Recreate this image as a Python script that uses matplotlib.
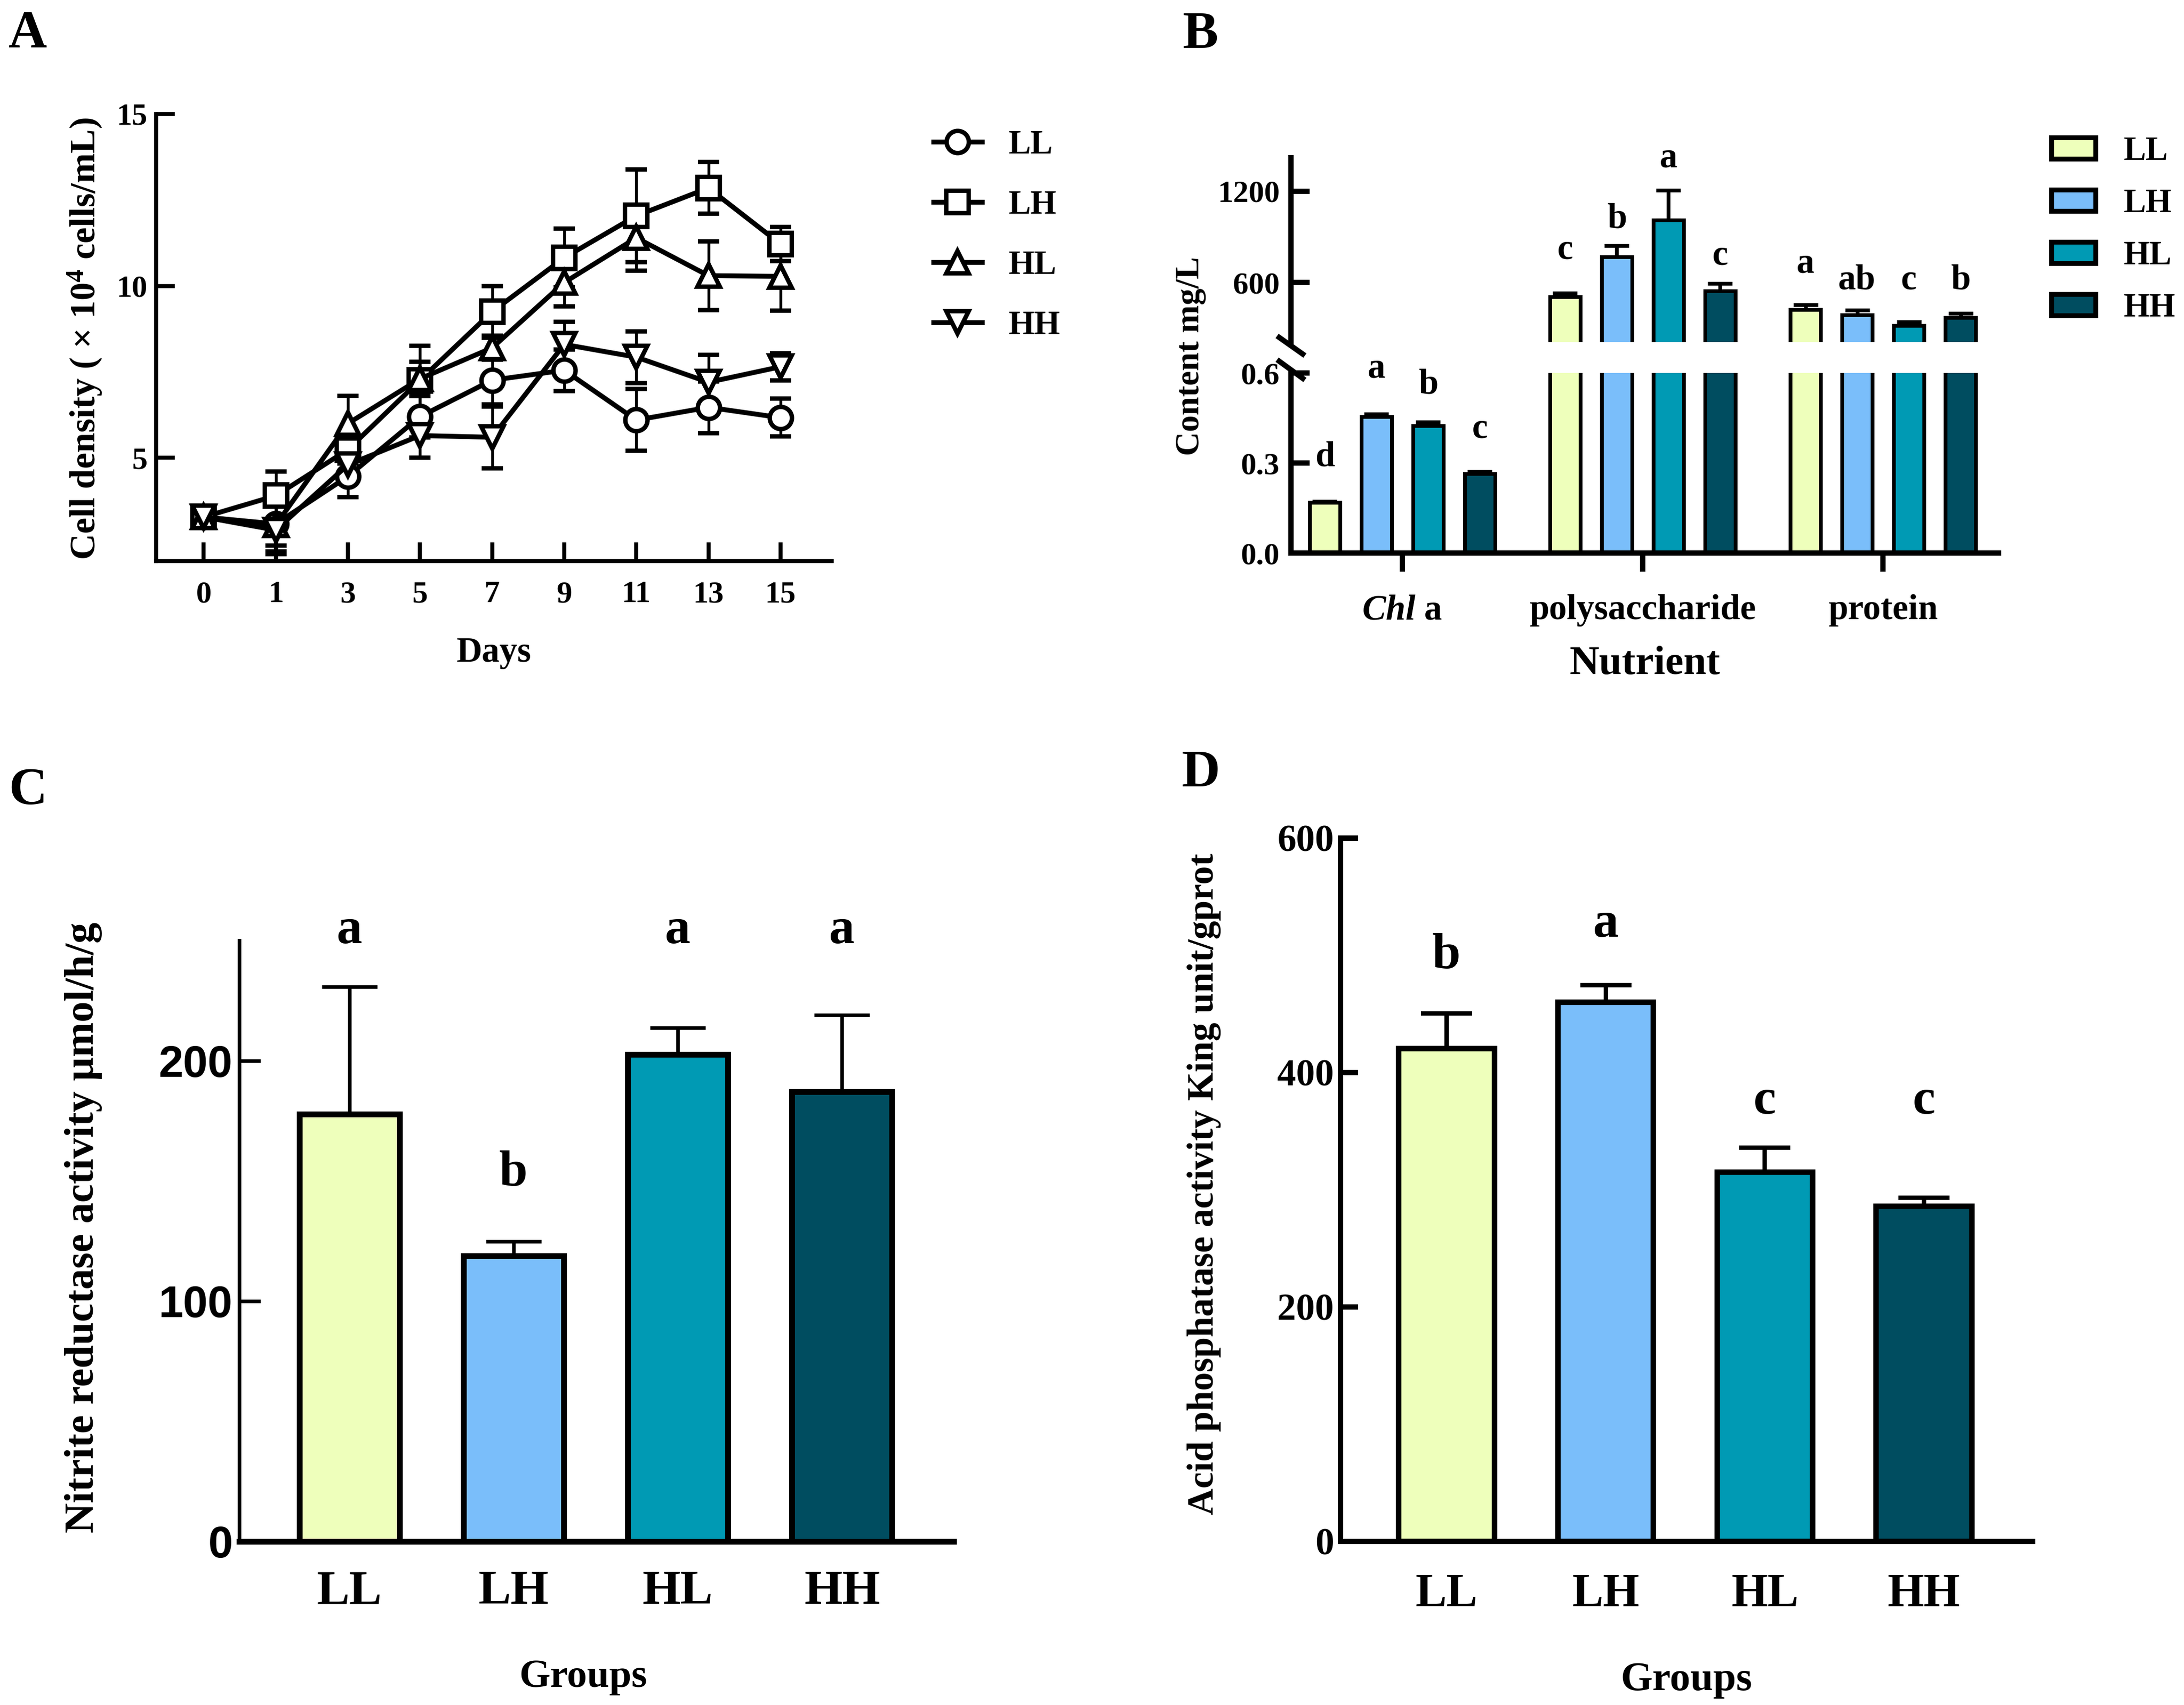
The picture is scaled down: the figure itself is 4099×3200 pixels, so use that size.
import numpy as np
import matplotlib
matplotlib.use("Agg")
import matplotlib.pyplot as plt
from matplotlib.lines import Line2D
from matplotlib.patches import Patch

plt.rcParams['font.family'] = ['Liberation Serif', 'DejaVu Serif']
plt.rcParams['font.weight'] = 'bold'
plt.rcParams['mathtext.fontset'] = 'custom'
plt.rcParams['mathtext.rm'] = 'Liberation Serif:bold'
plt.rcParams['mathtext.bf'] = 'Liberation Serif:bold'
plt.rcParams['mathtext.it'] = 'Liberation Serif:italic:bold'

# === Datos ===
groups = ['LL', 'LH', 'HL', 'HH']
colors = ['#EEFFBB', '#7ABEFA', '#009AB4', '#004D60']

# A: densidad celular
days = ['0', '1', '3', '5', '7', '9', '11', '13', '15']
ll_mean = [3.28, 3.08, 4.46, 6.20, 7.26, 7.55, 6.10, 6.47, 6.17]
ll_err = [0.15, 0.80, 0.60, 0.60, 0.70, 0.60, 0.90, 0.75, 0.55]
lh_mean = [3.28, 3.90, 5.24, 7.26, 9.25, 10.82, 12.04, 12.85, 11.22]
lh_err = [0.15, 0.70, 0.40, 1.00, 0.75, 0.85, 1.35, 0.75, 0.50]
hl_mean = [3.28, 3.05, 6.00, 7.30, 8.20, 10.10, 11.40, 10.30, 10.28]
hl_err = [0.15, 0.60, 0.80, 0.50, 0.35, 0.70, 0.95, 1.00, 1.00]
hh_mean = [3.28, 2.90, 4.80, 5.65, 5.60, 8.30, 7.93, 7.20, 7.65]
hh_err = [0.15, 0.70, 0.50, 0.65, 0.90, 0.65, 0.75, 0.80, 0.40]

# B: nutrientes
nutrients = [r'$\mathit{Chl}$ a', 'polysaccharide', 'protein']
chl_mean = [0.168, 0.454, 0.424, 0.265]
chl_err = [0.005, 0.010, 0.012, 0.006]
poly_mean = [507, 769, 1011, 545]
poly_err = [25, 75, 195, 50]
prot_mean = [422, 390, 317, 370]
prot_err = [32, 29, 27, 29]
chl_letters = ['d', 'a', 'b', 'c']
poly_letters = ['c', 'b', 'a', 'c']
prot_letters = ['a', 'ab', 'c', 'b']

# C: nitrito reductasa
nr_mean = [177.7, 118.7, 202.6, 187.0]
nr_err = [53, 6, 11, 32]
nr_letters = ['a', 'b', 'a', 'a']

# D: fosfatasa acida
ap_mean = [420.6, 460.0, 315.0, 285.7]
ap_err = [30, 14.5, 21, 7.5]
ap_letters = ['b', 'a', 'c', 'c']

# posiciones de letras (base del texto)
chl_let_y = [0.29, 0.585, 0.531, 0.385]
poly_let_y = [757, 961, 1360, 719]
prot_let_y = [667, 559, 559, 559]
nr_let_y = [249, 148, 249, 249]
ap_let_y = [489, 516, 365, 365]

W, H = 4099, 3200
fig = plt.figure(figsize=(W / 300, H / 300), dpi=300)


def box(l, t, r, b):
    return [l / W, 1 - b / H, (r - l) / W, (b - t) / H]


def ftext(x, y, s, **kw):
    fig.text(x / W, 1 - y / H, s, ha='center', va='center', **kw)


# === A ===
axA = fig.add_axes(box(293, 214, 1561, 1053))
xa = np.arange(len(days))
series = [(ll_mean, ll_err, 'o'), (lh_mean, lh_err, 's'),
          (hl_mean, hl_err, '^'), (hh_mean, hh_err, 'v')]
for (m, e, mk) in series:
    axA.errorbar(xa, m, yerr=e, color='k', lw=2.2, marker=mk, ms=10,
                 mfc='white', mec='k', mew=2.0, elinewidth=1.3,
                 capsize=4.8, capthick=1.3)
axA.set_xlim(-0.66, 8.71)
axA.set_ylim(2, 15)
axA.set_xticks(xa)
axA.set_xticklabels(days, fontsize=14)
axA.set_yticks([5, 10, 15])
axA.set_yticklabels(['5', '10', '15'], fontsize=14)
for s in ['top', 'right']:
    axA.spines[s].set_visible(False)
for s in ['left', 'bottom']:
    axA.spines[s].set_linewidth(1.8)
axA.tick_params(axis='both', direction='in', width=1.8, length=8.5)
axA.tick_params(axis='x', pad=9)
axA.tick_params(axis='y', pad=4)
ftext(927, 1225, 'Days', fontsize=16)
ftext(160, 636, r'Cell density ( $\times$ 10$^{4}$ cells/mL)', fontsize=16.3,
      rotation=90)
hA = [Line2D([], [], color='k', lw=2.2, marker=mk, ms=10, mfc='white',
             mec='k', mew=2.0) for (_, _, mk) in series]
fig.legend(hA, groups, loc='upper left', bbox_to_anchor=(1752 / W, 1 - 244 / H),
           frameon=False, fontsize=15, handlelength=1.45, handletextpad=0.8,
           labelspacing=0.88, borderpad=0, borderaxespad=0, numpoints=1)

# === B ===
axBl = fig.add_axes(box(2423, 700, 3751, 1038))
axBu = fig.add_axes(box(2423, 296, 3751, 642))
bw = 0.126
step = 0.215
offs = (np.arange(4) - 1.5) * step
gx = np.arange(3)
all_means = [chl_mean, poly_mean, prot_mean]
all_errs = [chl_err, poly_err, prot_err]
for ax in (axBl, axBu):
    for g in range(3):
        for i in range(4):
            ax.bar(gx[g] + offs[i], all_means[g][i], width=bw, color=colors[i],
                   edgecolor='k', linewidth=1.7, zorder=2)
            ax.errorbar(gx[g] + offs[i], all_means[g][i],
                        yerr=[[0], [all_errs[g][i]]], fmt='none', ecolor='k',
                        elinewidth=1.7, capsize=5.5, capthick=1.7, zorder=1)
    ax.set_xlim(-0.463, 2.481)
    for s in ['top', 'right']:
        ax.spines[s].set_visible(False)
    ax.spines['left'].set_linewidth(2.4)
    ax.spines['bottom'].set_linewidth(2.4)
axBl.set_ylim(0, 0.6)
axBu.set_ylim(210, 1420)
axBu.spines['bottom'].set_visible(False)
axBu.set_xticks([])
axBl.set_xticks(gx)
axBl.set_xticklabels(nutrients, fontsize=16)
axBl.tick_params(axis='x', direction='out', width=2.4, length=8.5, pad=10)
axBl.set_yticks([0, 0.3, 0.6])
axBl.set_yticklabels(['0.0', '0.3', '0.6'], fontsize=14)
axBu.set_yticks([600, 1200])
axBu.set_yticklabels(['600', '1200'], fontsize=14)
for ax in (axBl, axBu):
    ax.tick_params(axis='y', direction='in', width=2.4, length=8.5, pad=5)
for i in range(4):
    axBl.text(gx[0] + offs[i], chl_let_y[i], chl_letters[i], ha='center',
              va='baseline', fontsize=16, clip_on=False)
    axBu.text(gx[1] + offs[i], poly_let_y[i], poly_letters[i], ha='center',
              va='baseline', fontsize=16, clip_on=False)
    axBu.text(gx[2] + offs[i], prot_let_y[i], prot_letters[i], ha='center',
              va='baseline', fontsize=16, clip_on=False)
# marcas de corte
dx, dy = 0.0166, 0.05
axBu.plot([-dx, dx], [dy * 0.5, -dy * 1.3], transform=axBu.transAxes,
          color='k', lw=2.4, clip_on=False)
axBl.plot([-dx, dx], [1 + dy * 1.3, 1 - dy * 0.6], transform=axBl.transAxes,
          color='k', lw=2.4, clip_on=False)
ftext(3087, 1247, 'Nutrient', fontsize=18.5)
ftext(2235, 668, 'Content mg/L', fontsize=15, rotation=90)
hB = [Patch(facecolor=c, edgecolor='k', linewidth=2.2) for c in colors]
fig.legend(hB, groups, loc='upper left', bbox_to_anchor=(3850 / W, 1 - 256 / H),
           frameon=False, fontsize=15, handlelength=1.33, handleheight=0.6,
           handletextpad=0.85, labelspacing=0.64, borderpad=0, borderaxespad=0)

# === C ===
axC = fig.add_axes(box(449, 1765, 1790, 2893))
xc = np.arange(4)
axC.bar(xc, nr_mean, width=0.61, color=colors, edgecolor='k', linewidth=2.6,
        zorder=2)
axC.errorbar(xc, nr_mean, yerr=[np.zeros(4), nr_err], fmt='none', ecolor='k',
             elinewidth=1.6, capsize=12.5, capthick=1.6, zorder=1)
axC.set_xlim(-0.67, 3.68)
axC.set_ylim(0, 250)
for s in ['top', 'right']:
    axC.spines[s].set_visible(False)
axC.spines['left'].set_linewidth(1.6)
axC.spines['bottom'].set_linewidth(2.6)
axC.set_yticks([0, 100, 200])
axC.set_yticklabels(['0', '100', '200'], fontsize=20,
                    fontfamily='Liberation Sans', fontweight='bold')
axC.tick_params(axis='y', direction='in', width=1.6, length=9.5, pad=3)
axC.set_xticks(xc)
axC.set_xticklabels(groups, fontsize=22)
axC.tick_params(axis='x', length=0, pad=13)
for i in range(4):
    axC.text(xc[i], nr_let_y[i], nr_letters[i], ha='center', va='baseline',
             fontsize=23, clip_on=False)
ftext(1095, 3148, 'Groups', fontsize=18)
ftext(157, 2304, u'Nitrite reductase activity \u03bcmol/h/g', fontsize=18.8,
      rotation=90)

# === D ===
axD = fig.add_axes(box(2516, 1573, 3815, 2893))
axD.bar(xc, ap_mean, width=0.6, color=colors, edgecolor='k', linewidth=2.5,
        zorder=2)
axD.errorbar(xc, ap_mean, yerr=[np.zeros(4), ap_err], fmt='none', ecolor='k',
             elinewidth=2.0, capsize=11.5, capthick=2.0, zorder=1)
axD.set_xlim(-0.666, 3.683)
axD.set_ylim(0, 600)
for s in ['top', 'right']:
    axD.spines[s].set_visible(False)
for s in ['left', 'bottom']:
    axD.spines[s].set_linewidth(2.4)
axD.set_yticks([0, 200, 400, 600])
axD.set_yticklabels(['0', '200', '400', '600'], fontsize=17)
axD.tick_params(axis='y', direction='in', width=2.4, length=8, pad=3)
axD.set_xticks(xc)
axD.set_xticklabels(groups, fontsize=21)
axD.tick_params(axis='x', length=0, pad=14)
for i in range(4):
    axD.text(xc[i], ap_let_y[i], ap_letters[i], ha='center', va='baseline',
             fontsize=23, clip_on=False)
ftext(3165, 3154, 'Groups', fontsize=18.5)
ftext(2260, 2222, 'Acid phosphatase activity King unit/gprot', fontsize=16.7,
      rotation=90)

# letras de panel
for (px, py, s) in [(52, 65, 'A'), (2253, 65, 'B'), (52, 1485, 'C'),
                    (2253, 1451, 'D')]:
    ftext(px, py, s, fontsize=24)

fig.savefig('out.png', dpi=300, facecolor='white')
